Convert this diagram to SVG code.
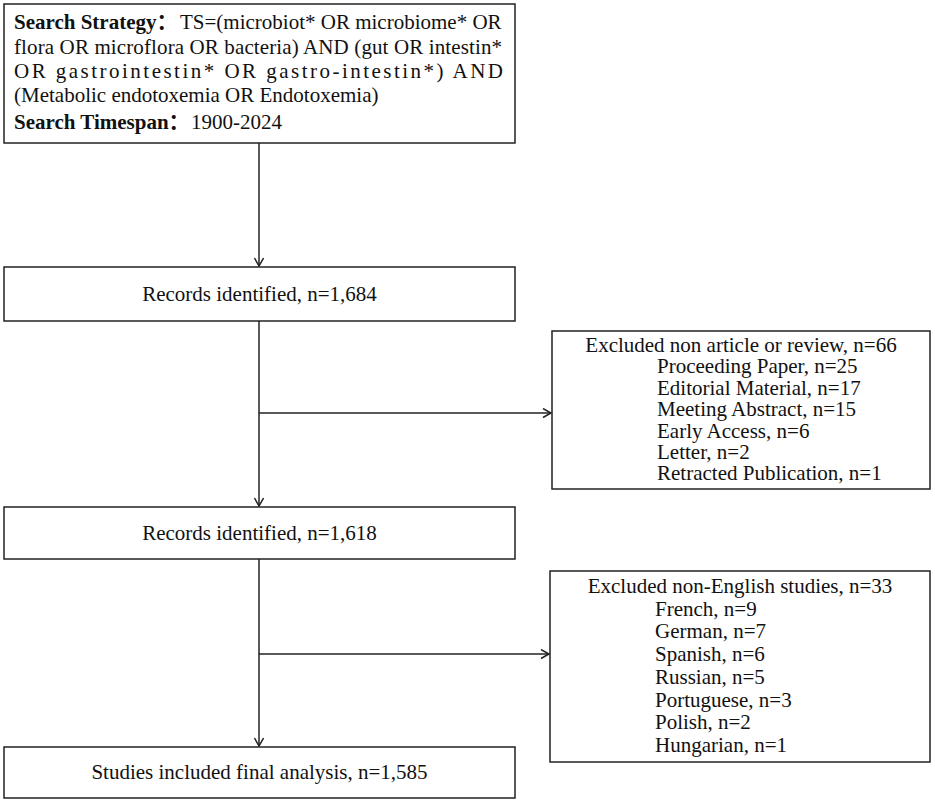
<svg xmlns="http://www.w3.org/2000/svg" width="935" height="804" viewBox="0 0 935 804">
<defs>
<style>
.box{fill:#fff;stroke:#222;stroke-width:1.5}
.ln{fill:none;stroke:#222;stroke-width:1.5}
text{font-family:"Liberation Serif","Noto Sans CJK SC",serif;font-size:21px;fill:#111}
.b{font-weight:bold}
.c{text-anchor:middle}
</style>
<marker id="arr" markerUnits="userSpaceOnUse" markerWidth="12" markerHeight="12" refX="9" refY="5" orient="auto">
<path d="M1,0.5 L9,5 L1,9.5" fill="none" stroke="#222" stroke-width="1.5"/>
</marker>
</defs>
<rect width="935" height="804" fill="#fff"/>
<g id="connectors">
<line class="ln" x1="259" y1="143" x2="259" y2="266" marker-end="url(#arr)"/>
<line class="ln" x1="259" y1="321" x2="259" y2="506" marker-end="url(#arr)"/>
<line class="ln" x1="259" y1="413" x2="551" y2="413" marker-end="url(#arr)"/>
<line class="ln" x1="259" y1="559" x2="259" y2="746" marker-end="url(#arr)"/>
<line class="ln" x1="259" y1="654" x2="549" y2="654" marker-end="url(#arr)"/>
</g>
<g id="search">
<rect class="box" x="4" y="4" width="511" height="139"/>
<text y="29"><tspan x="14" class="b">Search Strategy：</tspan><tspan x="180">TS=(microbiot* OR microbiome* OR</tspan></text>
<text x="14" y="54" textLength="488" lengthAdjust="spacing">flora OR microflora OR bacteria) AND (gut OR intestin*</text>
<text x="14" y="78" textLength="489" lengthAdjust="spacing">OR gastrointestin* OR gastro-intestin*) AND</text>
<text x="14" y="102">(Metabolic endotoxemia OR Endotoxemia)</text>
<text y="129"><tspan x="14" class="b">Search Timespan：</tspan><tspan x="191">1900-2024</tspan></text>
</g>
<g id="records1">
<rect class="box" x="4" y="267" width="511" height="54"/>
<text class="c" x="259.5" y="301">Records identified, n=1,684</text>
</g>
<g id="excluded1">
<rect class="box" x="552" y="331" width="378" height="158"/>
<text class="c" x="741" y="352">Excluded non article or review, n=66</text>
<text x="657" y="373.4">Proceeding Paper, n=25</text>
<text x="657" y="394.8">Editorial Material, n=17</text>
<text x="657" y="416.2">Meeting Abstract, n=15</text>
<text x="657" y="437.6">Early Access, n=6</text>
<text x="657" y="459">Letter, n=2</text>
<text x="657" y="480.4">Retracted Publication, n=1</text>
</g>
<g id="records2">
<rect class="box" x="4" y="507" width="511" height="52"/>
<text class="c" x="259.5" y="540">Records identified, n=1,618</text>
</g>
<g id="excluded2">
<rect class="box" x="550" y="571" width="380" height="191"/>
<text class="c" x="740" y="593">Excluded non-English studies, n=33</text>
<text x="655" y="615.7">French, n=9</text>
<text x="655" y="638.4">German, n=7</text>
<text x="655" y="661.1">Spanish, n=6</text>
<text x="655" y="683.8">Russian, n=5</text>
<text x="655" y="706.5">Portuguese, n=3</text>
<text x="655" y="729.2">Polish, n=2</text>
<text x="655" y="751.9">Hungarian, n=1</text>
</g>
<g id="final">
<rect class="box" x="4" y="747" width="511" height="51"/>
<text class="c" x="259.5" y="779">Studies included final analysis, n=1,585</text>
</g>
</svg>
